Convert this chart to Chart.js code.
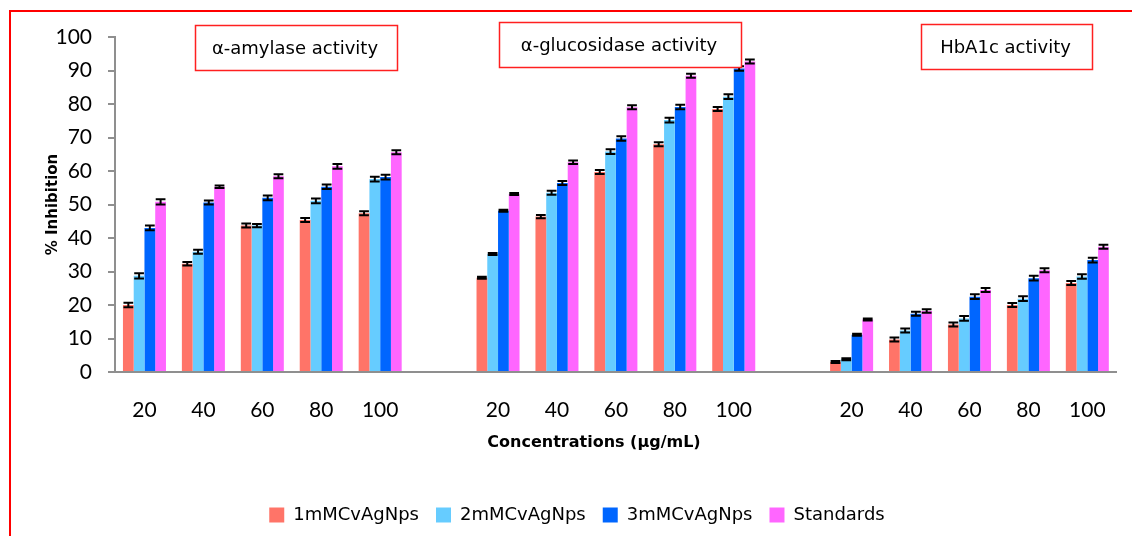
<!DOCTYPE html>
<html><head><meta charset="utf-8">
<script src="https://cdn.jsdelivr.net/npm/chart.js@4.4.1/dist/chart.umd.min.js"></script>
<style>html,body{margin:0;padding:0;background:#fff;}#wrap{width:1132px;height:536px;}</style>
</head><body><div id="wrap"><canvas id="c" width="1132" height="536"></canvas></div>
<script>
// ---- data ----
const categories = ['20','40','60','80','100','','20','40','60','80','100','','20','40','60','80','100'];
const seriesNames = ['1mMCvAgNps','2mMCvAgNps','3mMCvAgNps','Standards'];
const s1mM = [20.0,32.3,43.7,45.4,47.4,null,28.1,46.4,59.7,68.0,78.5,null,3.0,9.7,14.2,20.0,26.6];
const s2mM = [28.7,35.9,43.7,51.1,57.6,null,35.2,53.5,65.8,75.2,82.2,null,3.8,12.4,16.0,21.9,28.5];
const s3mM = [43.0,50.6,52.0,55.3,58.2,null,48.1,56.4,69.7,79.1,90.6,null,11.1,17.4,22.5,28.0,33.4];
const sStd = [50.8,55.3,58.4,61.4,65.6,null,53.1,62.6,79.0,88.4,92.7,null,15.7,18.2,24.5,30.4,37.4];
const e1mM = [0.7,0.5,0.6,0.6,0.6,null,0.3,0.5,0.6,0.6,0.6,null,0.3,0.6,0.6,0.6,0.6];
const e2mM = [0.8,0.6,0.5,0.7,0.7,null,0.3,0.6,0.7,0.7,0.7,null,0.3,0.6,0.7,0.7,0.7];
const e3mM = [0.7,0.6,0.7,0.7,0.7,null,0.3,0.6,0.7,0.7,0.7,null,0.3,0.6,0.7,0.7,0.7];
const eStd = [0.8,0.4,0.6,0.7,0.6,null,0.3,0.5,0.6,0.6,0.6,null,0.3,0.5,0.6,0.6,0.6];
const yTicksMin = 0, yTicksMax = 100, yStep = 10;
const panelTitles = ['α-amylase activity','α-glucosidase activity','HbA1c activity'];
const yTitle = '% Inhibition';
const xTitle = 'Concentrations (µg/mL)';

// ---- styles ----
const colors = ['#FF7468','#66CCFF','#0066FF','#FF66FF'];
const axisGray = '#8f8f8f';
const titleBoxes = [ {x:195,y:25,w:202,h:45}, {x:499,y:22,w:242,h:45}, {x:921,y:24,w:171,h:45} ];
const xTitlePos = {x:594, y:443};

const errs = [e1mM,e2mM,e3mM,eStd];
const values = [s1mM,s2mM,s3mM,sStd];

const decor = {
  id:'decor',
  beforeDraw(chart){
    const ctx = chart.ctx;
    ctx.save();
    ctx.fillStyle='#fff'; ctx.fillRect(0,0,chart.width,chart.height);
    ctx.strokeStyle='#FF0000'; ctx.lineWidth=2;
    ctx.beginPath(); ctx.moveTo(10,chart.height); ctx.lineTo(10,11); ctx.lineTo(chart.width,11); ctx.stroke();
    ctx.restore();
  },
  afterDatasetsDraw(chart){
    const ctx = chart.ctx, ys = chart.scales.y;
    ctx.save();
    ctx.strokeStyle='#000'; ctx.lineWidth=2;
    chart.data.datasets.forEach((ds,i)=>{
      const meta = chart.getDatasetMeta(i);
      meta.data.forEach((bar,j)=>{
        const v = ds.data[j]; if(v==null) return;
        const e = errs[i][j];
        const p = bar.getProps(['x','width'],true);
        const yt = ys.getPixelForValue(v+e), yb = ys.getPixelForValue(v-e);
        const hw = p.width/2 - 0.5;
        ctx.beginPath();
        ctx.moveTo(p.x,yt); ctx.lineTo(p.x,yb);
        ctx.moveTo(p.x-hw,yt); ctx.lineTo(p.x+hw,yt);
        ctx.moveTo(p.x-hw,yb); ctx.lineTo(p.x+hw,yb);
        ctx.stroke();
      });
    });
    ctx.restore();
  },
  afterDraw(chart){
    const ctx = chart.ctx;
    ctx.save();
    titleBoxes.forEach((b,i)=>{
      ctx.fillStyle='#fff'; ctx.fillRect(b.x,b.y,b.w,b.h);
      ctx.strokeStyle='#FF2020'; ctx.lineWidth=1.5;
      ctx.strokeRect(b.x+0.5,b.y+0.5,b.w,b.h);
      ctx.fillStyle='#000'; ctx.font='18px "DejaVu Sans"';
      ctx.textAlign='center'; ctx.textBaseline='middle';
      ctx.fillText(panelTitles[i], b.x+b.w/2-1, b.y+b.h/2+2);
    });
    ctx.font='bold 16px "DejaVu Sans"'; ctx.fillStyle='#000';
    ctx.textAlign='center'; ctx.textBaseline='middle';
    ctx.fillText(xTitle, xTitlePos.x, xTitlePos.y);
    ctx.restore();
  }
};

new Chart(document.getElementById('c'), {
  type:'bar',
  data:{
    labels: categories,
    datasets: seriesNames.map((n,i)=>({
      label:n, data:values[i], backgroundColor:colors[i], borderWidth:0,
      categoryPercentage:0.73, barPercentage:1.0
    }))
  },
  options:{
    responsive:false, animation:false, devicePixelRatio:1,
    layout:{padding:{left:36,right:14,top:37,bottom:2}},
    plugins:{
      legend:{position:'bottom', labels:{boxWidth:15, boxHeight:15, padding:17, color:'#000',
        font:{family:'"DejaVu Sans"', size:18}}},
      tooltip:{enabled:false}
    },
    scales:{
      x:{
        grid:{display:false, drawTicks:false},
        border:{color:axisGray, width:2},
        ticks:{color:'#000', font:{family:'Lato', size:21}, padding:26, autoSkip:false, maxRotation:0},
        afterFit(s){ s.height = 117; }
      },
      y:{
        min:yTicksMin, max:yTicksMax,
        grid:{drawOnChartArea:false, drawTicks:true, tickLength:7, color:axisGray, lineWidth:2},
        border:{color:axisGray, width:2},
        ticks:{stepSize:yStep, color:'#000', font:{family:'Lato', size:21}, padding:16},
        title:{display:true, text:yTitle, color:'#000', font:{family:'"DejaVu Sans"', size:15, weight:'bold'}, padding:{top:8,bottom:0}},
        afterFit(s){ s.width = 79; }
      }
    }
  },
  plugins:[decor]
});
</script></body></html>
